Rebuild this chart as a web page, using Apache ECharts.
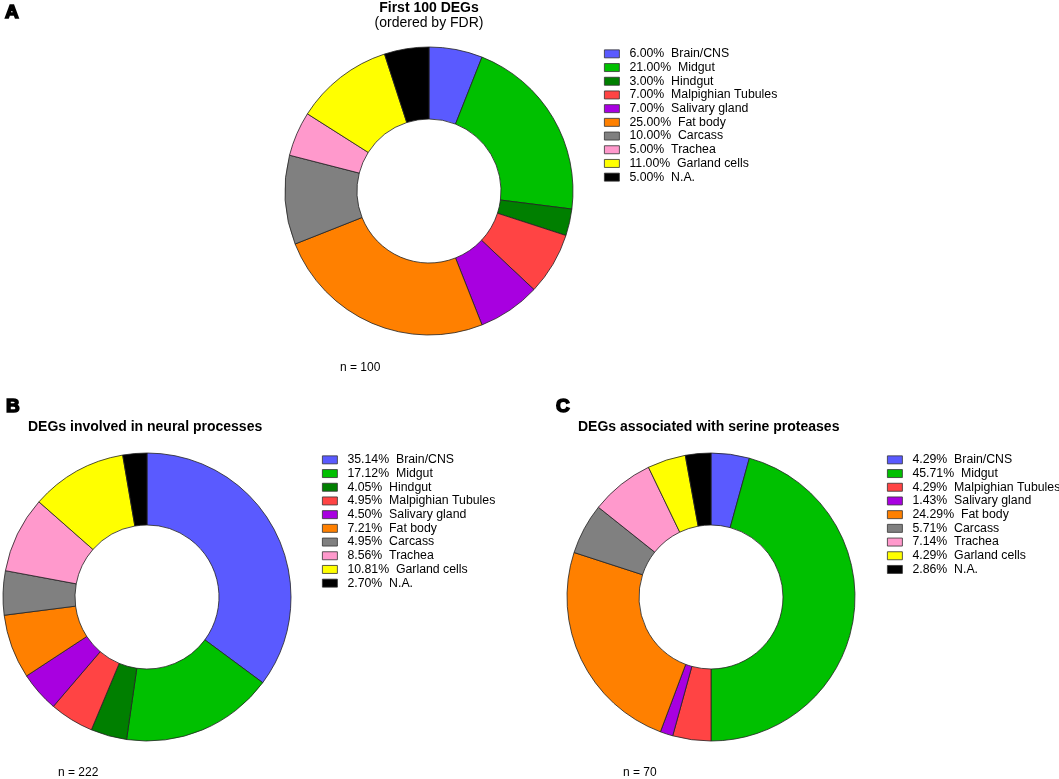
<!DOCTYPE html>
<html>
<head>
<meta charset="utf-8">
<script src="https://cdn.jsdelivr.net/npm/echarts@6/dist/echarts.min.js"></script>
<style>
html,body{margin:0;padding:0;background:#fff;}
#chart{width:1059px;height:779px;}
</style>
</head>
<body>
<div id="chart"></div>
<script>
// ---- data ----
const categoriesA = ["Brain/CNS","Midgut","Hindgut","Malpighian Tubules","Salivary gland","Fat body","Carcass","Trachea","Garland cells","N.A."];
const valuesA = [6.00,21.00,3.00,7.00,7.00,25.00,10.00,5.00,11.00,5.00];

const categoriesB = ["Brain/CNS","Midgut","Hindgut","Malpighian Tubules","Salivary gland","Fat body","Carcass","Trachea","Garland cells","N.A."];
const valuesB = [35.14,17.12,4.05,4.95,4.50,7.21,4.95,8.56,10.81,2.70];

const categoriesC = ["Brain/CNS","Midgut","Malpighian Tubules","Salivary gland","Fat body","Carcass","Trachea","Garland cells","N.A."];
const valuesC = [4.29,45.71,4.29,1.43,24.29,5.71,7.14,4.29,2.86];

const nA = "n = 100", nB = "n = 222", nC = "n = 70";

const colorMap = {
  "Brain/CNS":"#5a5aff",
  "Midgut":"#00c000",
  "Hindgut":"#007f00",
  "Malpighian Tubules":"#ff4444",
  "Salivary gland":"#a800e0",
  "Fat body":"#ff8000",
  "Carcass":"#808080",
  "Trachea":"#ff99cc",
  "Garland cells":"#ffff00",
  "N.A.":"#000000"
};

const FONT = "Liberation Sans, Arial, sans-serif";

function pieData(cats, vals){
  return cats.map((c,i)=>({name:c, value:vals[i], itemStyle:{color:colorMap[c]}}));
}
function fmt(cats, vals){
  return function(name){
    const i = cats.indexOf(name);
    return vals[i].toFixed(2) + "%  " + name;
  };
}
function makeLegend(cats, vals, left, top){
  return {
    orient:'vertical', left:left, top:top, padding:0,
    itemWidth:15, itemHeight:8, itemGap:0,
    icon:'rect', selectedMode:false,
    data:cats.map(c=>({name:c, icon:'rect', itemStyle:{color:colorMap[c], borderColor:'#333', borderWidth:0.8}})),
    formatter: fmt(cats, vals),
    textStyle:{fontFamily:FONT, fontSize:12.3, color:'#000', lineHeight:13.7, padding:[0,0,0,5]}
  };
}
function makePie(cats, vals, center){
  return {
    type:'pie', center:center, radius:[72,144], startAngle:90, clockwise:true,
    label:{show:false}, labelLine:{show:false}, silent:true,
    itemStyle:{borderColor:'#222', borderWidth:0.8},
    emphasis:{disabled:true},
    data: pieData(cats, vals)
  };
}
function txt(x,y,text,size,weight,align,family,heavy){
  const style = {text:text, fontSize:size, fontWeight:weight||'normal', fontFamily:family||FONT, fill:'#000', textAlign:align||'left', textVerticalAlign:'middle'};
  if (heavy) { style.stroke = '#000'; style.lineWidth = 1.6; }
  return {type:'text', x:x, y:y, style:style};
}

const chart = echarts.init(document.getElementById('chart'), null, {renderer:'canvas'});
chart.setOption({
  animation:false,
  backgroundColor:'#fff',
  legend:[
    makeLegend(categoriesA, valuesA, 604, 47),
    makeLegend(categoriesB, valuesB, 322, 453),
    makeLegend(categoriesC, valuesC, 887, 453)
  ],
  series:[
    makePie(categoriesA, valuesA, [429,191]),
    makePie(categoriesB, valuesB, [147,597]),
    makePie(categoriesC, valuesC, [711,597])
  ],
  graphic:[
    txt(5,13,"A",19,'bold','left',"Liberation Sans, sans-serif",true),
    txt(6,407,"B",19,'bold','left',"Liberation Sans, sans-serif",true),
    txt(556,407,"C",19,'bold','left',"Liberation Sans, sans-serif",true),
    txt(429,8,"First 100 DEGs",14,'bold','center'),
    txt(429,23,"(ordered by FDR)",14,'normal','center'),
    txt(28,427,"DEGs involved in neural processes",14,'bold','left'),
    txt(578,427,"DEGs associated with serine proteases",14,'bold','left'),
    txt(340,368,nA,12,'normal','left'),
    txt(58,773,nB,12,'normal','left'),
    txt(623,773,nC,12,'normal','left')
  ]
});
</script>
</body>
</html>
